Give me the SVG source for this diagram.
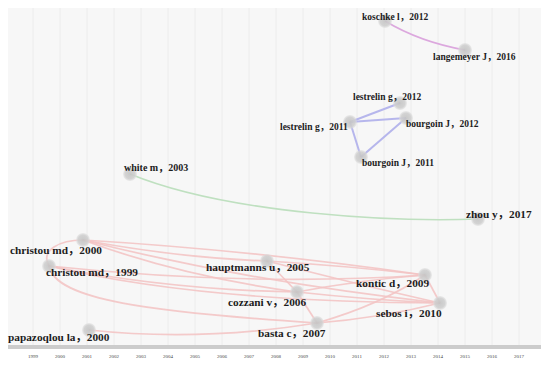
<svg xmlns="http://www.w3.org/2000/svg" width="550" height="367" viewBox="0 0 550 367">
<defs>
<radialGradient id="ng" cx="0.5" cy="0.5" r="0.5">
<stop offset="0" stop-color="#c4c4c4"/>
<stop offset="0.7" stop-color="#cfcfcf"/>
<stop offset="1" stop-color="#dedede" stop-opacity="0.6"/>
</radialGradient>
<style>
.lbl{font-family:"Liberation Serif","Noto Sans CJK SC",serif;font-weight:bold;fill:#1c1c1c}
.s{font-size:9.5px}
.m{font-size:10px}
.b{font-size:11.3px}
.yr{font-family:"Liberation Serif",serif;font-size:5px;fill:#444;text-anchor:middle}
.grid{stroke:#ececec;stroke-width:1}
.node{fill:url(#ng);opacity:0.9}
.red{fill:none;stroke:#f3c4c4;stroke-width:1.7;opacity:0.9}
.blue{fill:none;stroke:#b6b6ec;stroke-width:2}
.green{fill:none;stroke:#bfe0c0;stroke-width:1.6}
.pink{fill:none;stroke:#dca8de;stroke-width:1.6}
</style>
</defs>
<rect x="0" y="0" width="550" height="367" fill="#ffffff"/>
<rect x="8" y="8" width="533" height="337" fill="#f7f7f7"/>
<g id="grid">
<line class="grid" x1="33" y1="8" x2="33" y2="345"/>
<line class="grid" x1="60" y1="8" x2="60" y2="345"/>
<line class="grid" x1="87" y1="8" x2="87" y2="345"/>
<line class="grid" x1="114" y1="8" x2="114" y2="345"/>
<line class="grid" x1="141" y1="8" x2="141" y2="345"/>
<line class="grid" x1="168" y1="8" x2="168" y2="345"/>
<line class="grid" x1="195" y1="8" x2="195" y2="345"/>
<line class="grid" x1="222" y1="8" x2="222" y2="345"/>
<line class="grid" x1="249" y1="8" x2="249" y2="345"/>
<line class="grid" x1="276" y1="8" x2="276" y2="345"/>
<line class="grid" x1="303" y1="8" x2="303" y2="345"/>
<line class="grid" x1="330" y1="8" x2="330" y2="345"/>
<line class="grid" x1="357" y1="8" x2="357" y2="345"/>
<line class="grid" x1="384" y1="8" x2="384" y2="345"/>
<line class="grid" x1="411" y1="8" x2="411" y2="345"/>
<line class="grid" x1="438" y1="8" x2="438" y2="345"/>
<line class="grid" x1="465" y1="8" x2="465" y2="345"/>
<line class="grid" x1="492" y1="8" x2="492" y2="345"/>
<line class="grid" x1="519" y1="8" x2="519" y2="345"/>
</g>
<g id="axis">
<rect x="8" y="345" width="533" height="4" fill="#cccccc"/>
<text class="yr" x="33" y="358">1999</text>
<text class="yr" x="60" y="358">2000</text>
<text class="yr" x="87" y="358">2001</text>
<text class="yr" x="114" y="358">2002</text>
<text class="yr" x="141" y="358">2003</text>
<text class="yr" x="168" y="358">2004</text>
<text class="yr" x="195" y="358">2005</text>
<text class="yr" x="222" y="358">2006</text>
<text class="yr" x="249" y="358">2007</text>
<text class="yr" x="276" y="358">2008</text>
<text class="yr" x="303" y="358">2009</text>
<text class="yr" x="330" y="358">2010</text>
<text class="yr" x="357" y="358">2011</text>
<text class="yr" x="384" y="358">2012</text>
<text class="yr" x="411" y="358">2013</text>
<text class="yr" x="438" y="358">2014</text>
<text class="yr" x="465" y="358">2015</text>
<text class="yr" x="492" y="358">2016</text>
<text class="yr" x="519" y="358">2017</text>
</g>
<g id="connectors">
<path class="pink" d="M385,21 Q420,42 465,50"/>
<path class="blue" d="M400,103 L350,122"/>
<path class="blue" d="M406,118 L350,122"/>
<path class="blue" d="M361,157 L350,122"/>
<path class="blue" d="M406,118 L361,157"/>
<path class="green" d="M130,174 C230,215 400,222 478,219"/>
<path class="red" d="M83,240 C60,240 40,250 49,266"/>
<path class="red" d="M83,240 Q180,258 267,261"/>
<path class="red" d="M83,240 Q250,250 425,275"/>
<path class="red" d="M83,240 Q250,282 440,303"/>
<path class="red" d="M83,240 Q180,276 297,292"/>
<path class="red" d="M49,266 Q250,287 425,275"/>
<path class="red" d="M49,266 Q200,302 440,303"/>
<path class="red" d="M49,266 C55,300 150,312 317,323"/>
<path class="red" d="M49,266 Q170,290 297,292"/>
<path class="red" d="M89,330 Q200,342 317,323"/>
<path class="red" d="M267,261 Q350,266 425,275"/>
<path class="red" d="M267,261 L297,292"/>
<path class="red" d="M267,261 Q360,285 440,303"/>
<path class="red" d="M297,292 L317,323"/>
<path class="red" d="M297,292 Q370,300 440,303"/>
<path class="red" d="M297,292 Q360,280 425,275"/>
<path class="red" d="M317,323 Q380,318 440,303"/>
<path class="red" d="M317,323 Q380,305 425,275"/>
<path class="red" d="M425,275 L440,303"/>
</g>
<g id="koschke"><circle class="node" cx="385" cy="21" r="7"/><text class="lbl s" x="362" y="20">koschke l，2012</text></g>
<g id="langemeyer"><circle class="node" cx="465" cy="50" r="7"/><text class="lbl s" x="433" y="60">langemeyer J，2016</text></g>
<g id="lestrelin2012"><circle class="node" cx="400" cy="103" r="7"/><text class="lbl s" x="353" y="100">lestrelin g，2012</text></g>
<g id="lestrelin2011"><circle class="node" cx="350" cy="122" r="7"/><text class="lbl s" x="280" y="130">lestrelin g，2011</text></g>
<g id="bourgoin2012"><circle class="node" cx="406" cy="118" r="7"/><text class="lbl s" x="406" y="127">bourgoin J，2012</text></g>
<g id="bourgoin2011"><circle class="node" cx="361" cy="157" r="7"/><text class="lbl s" x="362" y="166">bourgoin J，2011</text></g>
<g id="white"><circle class="node" cx="130" cy="174" r="7"/><text class="lbl m" x="124" y="171">white m，2003</text></g>
<g id="zhou"><circle class="node" cx="478" cy="219" r="7"/><text class="lbl b" x="466" y="218">zhou y，2017</text></g>
<g id="christou2000"><circle class="node" cx="83" cy="240" r="7"/><text class="lbl b" x="10" y="254">christou md，2000</text></g>
<g id="christou1999"><circle class="node" cx="49" cy="266" r="7"/><text class="lbl b" x="46" y="276">christou md，1999</text></g>
<g id="hauptmanns"><circle class="node" cx="267" cy="261" r="7"/><text class="lbl b" x="206" y="271">hauptmanns u，2005</text></g>
<g id="cozzani"><circle class="node" cx="297" cy="292" r="7"/><text class="lbl b" x="228" y="306">cozzani v，2006</text></g>
<g id="basta"><circle class="node" cx="317" cy="323" r="7"/><text class="lbl b" x="258" y="337">basta c，2007</text></g>
<g id="kontic"><circle class="node" cx="425" cy="275" r="7"/><text class="lbl b" x="356" y="287">kontic d，2009</text></g>
<g id="sebos"><circle class="node" cx="440" cy="303" r="7"/><text class="lbl b" x="376" y="317">sebos i，2010</text></g>
<g id="papazoqlou"><circle class="node" cx="89" cy="330" r="7"/><text class="lbl b" x="8" y="341">papazoqlou la，2000</text></g>
</svg>
